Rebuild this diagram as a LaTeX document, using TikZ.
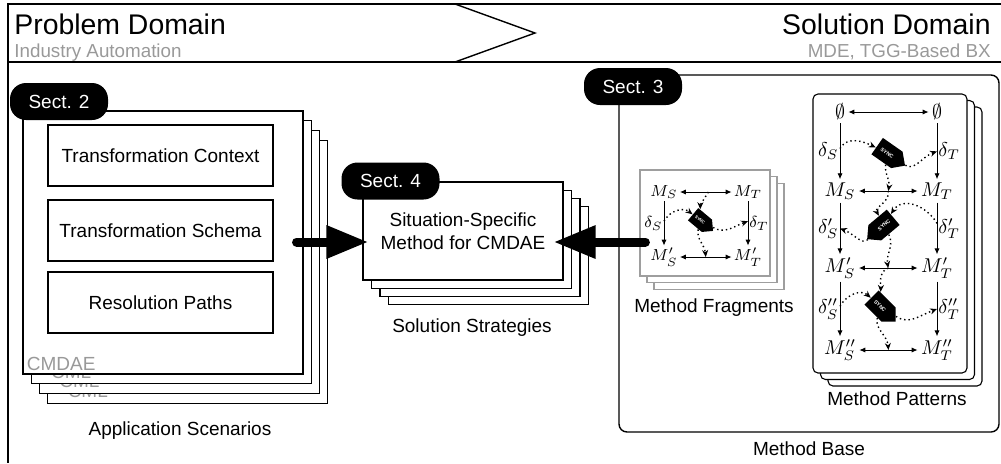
\documentclass[tikz,border=0pt]{standalone}
\usepackage{fontspec}
\setmainfont{Liberation Sans}
\usetikzlibrary{arrows.meta,shapes.symbols}

\definecolor{subgray}{gray}{0.6}
\definecolor{fraggray}{gray}{0.62}

\newcommand{\ttlfont}{\fontsize{14.2}{16}\selectfont}
\newcommand{\subfnt}{\fontsize{9.4}{11}\selectfont}
\newcommand{\lblfont}{\fontsize{9.5}{11.5}\selectfont}
\newcommand{\patmath}{\fontsize{10}{12}\selectfont}
\newcommand{\fragmath}{\fontsize{8}{10}\selectfont}
\newcommand{\syncfont}{\fontsize{2.6}{3}\selectfont\bfseries}

\tikzset{
  frame/.style={line width=0.7pt},
  apppage/.style={draw, fill=white, line width=0.55pt, minimum width=140pt, minimum height=131.5pt, inner sep=0pt},
  solpage/.style={draw, fill=white, line width=0.55pt, minimum width=100pt, minimum height=49pt, inner sep=0pt, font=\lblfont, align=center},
  fragpage/.style={draw=fraggray, fill=white, line width=0.6pt, minimum width=65pt, minimum height=53pt, inner sep=0pt},
  patpage/.style={draw, fill=white, line width=0.55pt, rounded corners=2.5pt, minimum width=77pt, minimum height=139.5pt, inner sep=0pt},
  inbox/.style={draw, fill=white, line width=0.55pt, minimum width=112.5pt, minimum height=30.5pt, font=\lblfont},
  sect/.style={fill=black, text=white, rounded corners=8pt, minimum width=49pt, minimum height=18.5pt, inner sep=0pt, font=\lblfont},
  lbl/.style={font=\lblfont, anchor=base},
  pm/.style={font=\patmath, inner sep=1.5pt},
  fm/.style={font=\fragmath, inner sep=1pt},
  dl/.style={inner sep=0.5pt},
  pa/.style={line width=0.45pt, >={Latex[length=3pt,width=2.6pt]}},
  sync/.style={signal, signal to=east, fill=black, text=white, font=\syncfont, minimum width=17pt, minimum height=10pt, inner sep=0.5pt},
  smallsync/.style={sync, minimum width=13pt, minimum height=8pt, font=\fontsize{2.1}{2.5}\selectfont\bfseries},
  flow/.style={line width=0.7pt, dash pattern=on 0.7pt off 1.5pt, -{Stealth[length=3.5pt,width=3pt]}},
  bigarrow/.style={line width=4.5pt, line cap=round, -{Triangle[length=21pt,width=15.5pt]}}
}

\begin{document}
\begin{tikzpicture}[x=0.5pt, y=-0.5pt]
  \useasboundingbox (0,0) rectangle (1001,463);

  % banner
  \draw[frame] (1001,4) -- (8,4) -- (8,463);
  \draw[frame] (8,62) -- (1001,62);
  \draw[frame] (455,4) -- (535,33) -- (455,62);
  \node[font=\ttlfont, anchor=base west, inner sep=0pt] (prob) at (14,34) {Problem Domain};
  \node[font=\subfnt, text=subgray, anchor=base west, inner sep=0pt] (probsub) at (14,57) {Industry Automation};
  \node[font=\ttlfont, anchor=base east, inner sep=0pt] (solu) at (991,34) {Solution Domain};
  \node[font=\subfnt, text=subgray, anchor=base east, inner sep=0pt] (solusub) at (991,57) {MDE, TGG-Based BX};

  % application scenarios
  \foreach \k in {3,2,1} {
    \node[apppage] (app\k) at (163+8.3*\k, 242.5+9.7*\k) {};
    \node[font=\lblfont, text=subgray, anchor=base west, inner sep=0pt] (cml\k) at ([shift={(20,-6)}]app\k.south west) {CML};
  }
  \node[apppage] (app) at (163,242.5) {};
  \node[font=\lblfont, text=subgray, anchor=base west, inner sep=0pt] (cmdae) at ([shift={(4,-4)}]app.south west) {CMDAE};
  \node[inbox] (ctx) at (160.5,155.5) {Transformation Context};
  \node[inbox] (schema) at (160.5,230.5) {Transformation Schema};
  \node[inbox] (paths) at (160.5,302.5) {Resolution Paths};
  \node[sect] (sect2) at (59,101.5) {Sect. 2};
  \node[lbl] (appl) at (180,435) {Application Scenarios};

  % solution strategies
  \foreach \k in {3,2,1}
    \node[solpage] (sol\k) at (463+8.5*\k, 231+8.3*\k) {};
  \node[solpage] (sol) at (463,231) {Situation-Specific\\Method for CMDAE};
  \node[sect] (sect4) at (390.5,181) {Sect. 4};
  \node[lbl] (soll) at (472,332) {Solution Strategies};

  % method base
  \node[draw, line width=0.7pt, rounded corners=4pt, minimum width=190pt, minimum height=178.5pt, inner sep=0pt] (mbase) at (809,253.5) {};
  \node[sect] (sect3) at (633,86.5) {Sect. 3};
  \node[lbl] (mbasel) at (809,455) {Method Base};

  % method fragments
  \foreach \k in {2,1}
    \node[fragpage] (frag\k) at (705+7*\k, 223+6.7*\k) {};
  \node[fragpage] (frag) at (705,223) {};
  \node[fm] (fms) at (664,192) {$M_S$};
  \node[fm] (fmt) at (748,192) {$M_T$};
  \node[fm] (fms1) at (664,257) {$M'_S$};
  \node[fm] (fmt1) at (748,257) {$M'_T$};
  \draw[pa, <->] (fms) -- coordinate[pos=.55] (fh) (fmt);
  \draw[pa, <->] (fms1) -- coordinate[pos=.5] (fh1) (fmt1);
  \draw[pa, ->] (fms) -- node[left, dl, font=\fragmath] (fds) {$\delta_S$} coordinate[pos=.45] (fl) (fms1);
  \draw[pa, ->] (fmt) -- node[right, dl, font=\fragmath] (fdt) {$\delta_T$} coordinate[pos=.45] (fr) (fmt1);
  \node[smallsync, rotate=-40] (fs) at (700,220) {SYNC};
  \draw[flow] (fh) to[out=240, in=110] (fs);
  \draw[flow] (fl) to[out=60, in=160] (fs);
  \draw[flow] (fs) to[out=-10, in=200] (fr);
  \draw[flow] (fs) to[out=-85, in=95] (fh1);
  \node[lbl] (fragl) at (714,312) {Method Fragments};

  % method patterns
  \foreach \k in {2,1}
    \node[patpage] (pat\k) at (890+7.5*\k, 233.5+6.5*\k) {};
  \node[patpage] (pat) at (890,233.5) {};
  \node[pm] (e1) at (840,112) {$\emptyset$};
  \node[pm] (e2) at (937,112) {$\emptyset$};
  \node[pm] (ms) at (840,191) {$M_S$};
  \node[pm] (mt) at (937,191) {$M_T$};
  \node[pm] (ms1) at (840,268) {$M'_S$};
  \node[pm] (mt1) at (937,268) {$M'_T$};
  \node[pm] (ms2) at (840,350) {$M''_S$};
  \node[pm] (mt2) at (937,350) {$M''_T$};
  \draw[pa, <->] (e1) -- (e2);
  \draw[pa, <->] (ms) -- coordinate[pos=.5] (h1) (mt);
  \draw[pa, <->] (ms1) -- coordinate[pos=.5] (h2) (mt1);
  \draw[pa, <->] (ms2) -- coordinate[pos=.5] (h3) (mt2);
  \draw[pa, ->] (e1) -- node[left, dl, font=\patmath] (ds) {$\delta_S$} coordinate[pos=.45] (l1) (ms);
  \draw[pa, ->] (ms) -- node[left, dl, font=\patmath] (ds1) {$\delta'_S$} coordinate[pos=.5] (l2) (ms1);
  \draw[pa, ->] (ms1) -- node[left, dl, font=\patmath] (ds2) {$\delta''_S$} coordinate[pos=.45] (l3) (ms2);
  \draw[pa, ->] (e2) -- node[right, dl, font=\patmath] (dt) {$\delta_T$} coordinate[pos=.5] (r1) (mt);
  \draw[pa, ->] (mt) -- node[right, dl, font=\patmath] (dt1) {$\delta'_T$} coordinate[pos=.4] (r2) (mt1);
  \draw[pa, ->] (mt1) -- node[right, dl, font=\patmath] (dt2) {$\delta''_T$} coordinate[pos=.5] (r3) (mt2);
  \node[sync, rotate=-35] (s1) at (887,153) {SYNC};
  \node[sync, signal to=west, rotate=40] (s2) at (884,225) {SYNC};
  \node[sync, rotate=-45] (s3) at (880,306) {SYNC};
  \draw[flow] (l1) to[out=60, in=170] (s1);
  \draw[flow] (s1) to[out=-15, in=200] (r1);
  \draw[flow] (s1) to[out=-80, in=80] (h1);
  \draw[flow] (h1) to[out=-80, in=100] (s2);
  \draw[flow] (r2) to[out=120, in=40] (s2);
  \draw[flow] (s2) to[out=200, in=-20] (l2);
  \draw[flow] (s2) to[out=-80, in=100] (h2);
  \draw[flow] (h2) to[out=200, in=110] (s3);
  \draw[flow] (l3) to[out=60, in=160] (s3);
  \draw[flow] (s3) to[out=-10, in=200] (r3);
  \draw[flow] (s3) to[out=-85, in=95] (h3);
  \node[lbl] (patl) at (897,405) {Method Patterns};

  % big arrows
  \coordinate (arrowrow) at (0,242);
  \draw[bigarrow, shorten <=-3.5pt, shorten >=-3pt] (app.east |- arrowrow) -- (sol.west |- arrowrow);
  \draw[bigarrow, shorten <=-3pt, shorten >=-5pt] (frag.west |- arrowrow) -- (sol.east |- arrowrow);
\end{tikzpicture}
\end{document}
